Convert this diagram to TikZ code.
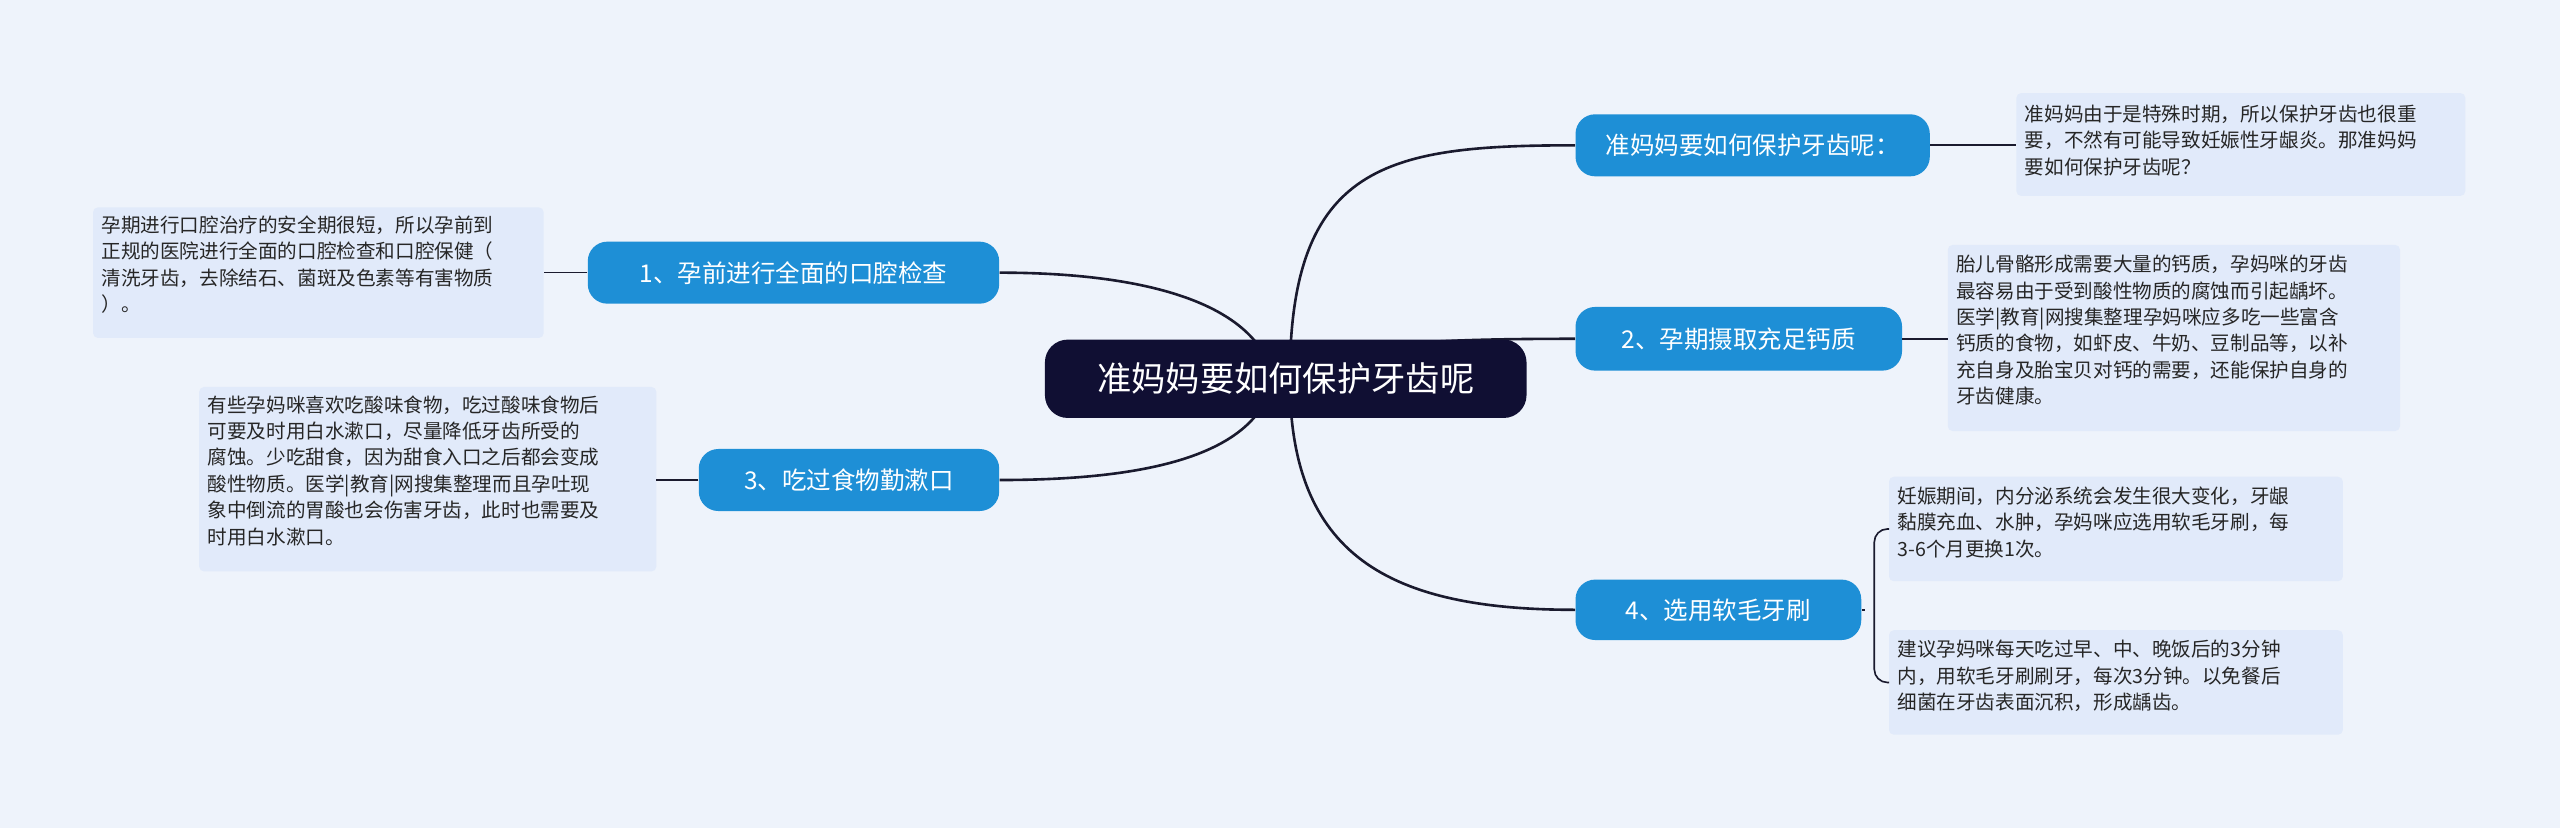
\documentclass[tikz,border=0pt]{standalone}
\usepackage{fontspec}
\setmainfont{Noto Sans CJK SC}
\begin{document}
\begin{tikzpicture}[x=1pt,y=-1pt,
  branch/.style={fill=brB,rounded corners=12pt,text=white,font=\fontsize{15}{18}\selectfont,inner sep=0pt},
  leaf/.style={fill=leafC,rounded corners=3pt,align=left,anchor=north west,inner sep=0pt,font=\fontsize{12}{16.2}\selectfont,text=black!85},
  conn/.style={draw=lineC,line width=1.6pt}]
\definecolor{bgC}{HTML}{EEF3FB}
\definecolor{brB}{HTML}{1E8FD6}
\definecolor{leafC}{HTML}{E1EAFA}
\definecolor{lineC}{HTML}{1A1A2E}
\definecolor{cen}{HTML}{100F33}
\fill[bgC] (0,0) rectangle (1568,507);
\useasboundingbox (0,0) rectangle (1568,507);
% center
\coordinate (c) at (790,232);
\coordinate (cl) at (780,232);
% branches
\node[branch,minimum width=217pt,minimum height=38pt] (r1) at (1073.5,89) {准妈妈要如何保护牙齿呢：};
\node[branch,minimum width=200pt,minimum height=39pt] (r2) at (1065,207.5) {2、孕期摄取充足钙质};
\node[branch,minimum width=175pt,minimum height=37pt] (r4) at (1052.5,373.5) {4、选用软毛牙刷};
\node[branch,minimum width=252pt,minimum height=38pt] (l1) at (486,167) {1、孕前进行全面的口腔检查};
\node[branch,minimum width=184pt,minimum height=38pt] (l3) at (520,294) {3、吃过食物勤漱口};
% connectors center-branches
\draw[conn] (c) .. controls (790,100) and (850,89) .. (r1.west);
\draw[conn] (c) .. controls (800,210) and (880,207.5) .. (r2.west);
\draw[conn] (c) .. controls (790,340) and (850,373.5) .. (r4.west);
\draw[conn] (cl) .. controls (770,185) and (700,167) .. (l1.east);
\draw[conn] (cl) .. controls (770,280) and (700,294) .. (l3.east);
\node[fill=cen,rounded corners=14pt,minimum width=295pt,minimum height=48pt,text=white,font=\fontsize{21}{24}\selectfont] (ct) at (787.5,232) {准妈妈要如何保护牙齿呢};
% leaves
\fill[leafC,rounded corners=3pt] (1235,57) rectangle (1510,120);
\node[leaf] (L1) at (1240,64) {准妈妈由于是特殊时期，所以保护牙齿也很重\\要，不然有可能导致妊娠性牙龈炎。那准妈妈\\要如何保护牙齿呢？};
\fill[leafC,rounded corners=3pt] (1193,150) rectangle (1470,264);
\node[leaf] (L2) at (1198,156) {胎儿骨骼形成需要大量的钙质，孕妈咪的牙齿\\最容易由于受到酸性物质的腐蚀而引起龋坏。\\医学|教育|网搜集整理孕妈咪应多吃一些富含\\钙质的食物，如虾皮、牛奶、豆制品等，以补\\充自身及胎宝贝对钙的需要，还能保护自身的\\牙齿健康。};
\fill[leafC,rounded corners=3pt] (1157,292) rectangle (1435,356);
\node[leaf] (L4a) at (1162,298) {妊娠期间，内分泌系统会发生很大变化，牙龈\\黏膜充血、水肿，孕妈咪应选用软毛牙刷，每\\3-6个月更换1次。};
\fill[leafC,rounded corners=3pt] (1157,386) rectangle (1435,450);
\node[leaf] (L4b) at (1162,392) {建议孕妈咪每天吃过早、中、晚饭后的3分钟\\内，用软毛牙刷刷牙，每次3分钟。以免餐后\\细菌在牙齿表面沉积，形成龋齿。};
\fill[leafC,rounded corners=3pt] (57,127) rectangle (333,207);
\node[leaf] (La) at (62,132) {孕期进行口腔治疗的安全期很短，所以孕前到\\正规的医院进行全面的口腔检查和口腔保健（\\清洗牙齿，去除结石、菌斑及色素等有害物质\\）。};
\fill[leafC,rounded corners=3pt] (122,237) rectangle (402,350);
\node[leaf] (Lb) at (127,242) {有些孕妈咪喜欢吃酸味食物，吃过酸味食物后\\可要及时用白水漱口，尽量降低牙齿所受的\\腐蚀。少吃甜食，因为甜食入口之后都会变成\\酸性物质。医学|教育|网搜集整理而且孕吐现\\象中倒流的胃酸也会伤害牙齿，此时也需要及\\时用白水漱口。};
% leaf connectors
\coordinate (p1) at (1235,89);
\coordinate (p2) at (1193,207.5);
\coordinate (pa) at (333,167);
\coordinate (pb) at (402,294);
\draw[lineC,line width=1pt] (r1.east) -- (p1);
\draw[lineC,line width=1pt] (r2.east) -- (p2);
\draw[lineC,line width=1pt] (l1.west) -- (pa);
\draw[lineC,line width=1pt] (l3.west) -- (pb);
\coordinate (q1) at (1157,324);
\coordinate (q2) at (1157,418);
\draw[lineC,line width=1pt] (r4.east) -- (1142,373.5);
\draw[lineC,line width=1pt,rounded corners=8pt] (q1) -- (1148,324) -- (1148,418) -- (q2);
\end{tikzpicture}
\end{document}
